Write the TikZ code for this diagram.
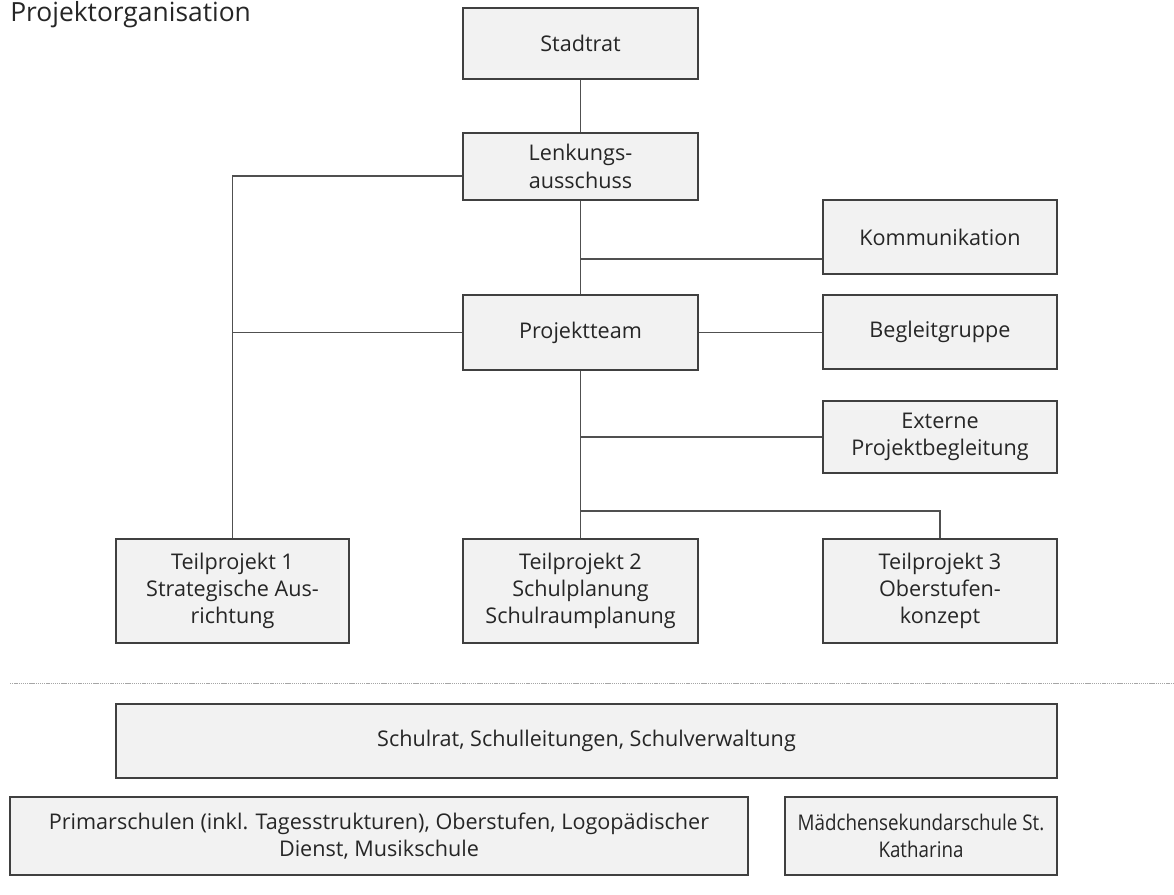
\documentclass[tikz,border=0pt]{standalone}
\usepackage{fontspec}
\setmainfont{Open Sans}
\definecolor{boxfill}{HTML}{F2F2F2}
\definecolor{boxline}{HTML}{404040}
\definecolor{conn}{HTML}{505050}
\definecolor{txt}{HTML}{262626}
\begin{document}
\begin{tikzpicture}[x=0.75pt,y=-0.75pt,
  box/.style={draw=boxline, fill=boxfill, line width=0.9pt, align=center, inner sep=2pt,
    text=txt, font=\fontsize{16.2pt}{20.5pt}\selectfont},
  conn/.style={draw=conn, line width=0.8pt}]
\useasboundingbox (0,0) rectangle (1174,895);
\node[anchor=north west, text=txt, font=\fontsize{19.8pt}{23pt}\selectfont, inner sep=0pt] (title) at (10,1) {Projektorganisation};

\node[box, minimum width=235*0.75pt, minimum height=71*0.75pt] (st) at (580.5,43.5) {Stadtrat};
\node[box, minimum width=235*0.75pt, minimum height=67*0.75pt] (lk) at (580.5,166.5) {Lenkungs-\\ausschuss};
\node[box, minimum width=234*0.75pt, minimum height=74*0.75pt] (ko) at (940,237) {Kommunikation};
\node[box, minimum width=235*0.75pt, minimum height=75*0.75pt] (pt) at (580.5,332.5) {Projektteam};
\node[box, minimum width=234*0.75pt, minimum height=74*0.75pt] (bg) at (940,332) {Begleitgruppe};
\node[box, minimum width=234*0.75pt, minimum height=72*0.75pt] (ex) at (940,437) {Externe\\Projektbegleitung};
\node[box, minimum width=233*0.75pt, minimum height=104*0.75pt] (tp1) at (232.5,591) {Teilprojekt 1\\Strategische Aus-\\richtung};
\node[box, minimum width=235*0.75pt, minimum height=104*0.75pt] (tp2) at (580.5,591) {Teilprojekt 2\\Schulplanung\\Schulraumplanung};
\node[box, minimum width=234*0.75pt, minimum height=104*0.75pt] (tp3) at (940,591) {Teilprojekt 3\\Oberstufen-\\konzept};

\coordinate (d1) at (10,683);
\coordinate (d2) at (1174,683);
\draw[draw=gray!70, line width=0.6pt, dash pattern=on 1pt off 0.6pt] (d1) -- (d2);

\node[box, minimum width=941*0.75pt, minimum height=74*0.75pt] (sr) at (586.5,741) {Schulrat, Schulleitungen, Schulverwaltung};
\node[box, minimum width=738*0.75pt, minimum height=78*0.75pt] (ps) at (379,836) {Primarschulen (inkl. Tagesstrukturen), Oberstufen, Logopädischer\\Dienst, Musikschule};
\node[box, minimum width=272*0.75pt, minimum height=78*0.75pt, inner xsep=0pt,
  font=\fontsize{16.2pt}{20.5pt}\selectfont\addfontfeature{FakeStretch=0.87}] (ms) at (921,836) {Mädchensekundarschule St.\\Katharina};

\coordinate (c1) at (232.5,176);
\coordinate (c2) at (580.5,259);
\coordinate (c3) at (580.5,437);
\coordinate (c4) at (580.5,511);

\draw[conn] (st) -- (lk);
\draw[conn] (lk.west |- c1) -- (c1) -- (tp1.north);
\draw[conn] (pt.west) -- (pt.west -| c1);
\draw[conn] (lk) -- (pt);
\draw[conn] (c2) -- (c2 -| ko.west);
\draw[conn] (pt.east) -- (pt.east -| bg.west);
\draw[conn] (pt) -- (tp2);
\draw[conn] (c3) -- (ex.west);
\draw[conn] (c4) -- (c4 -| tp3.north) -- (tp3.north);
\end{tikzpicture}
\end{document}
